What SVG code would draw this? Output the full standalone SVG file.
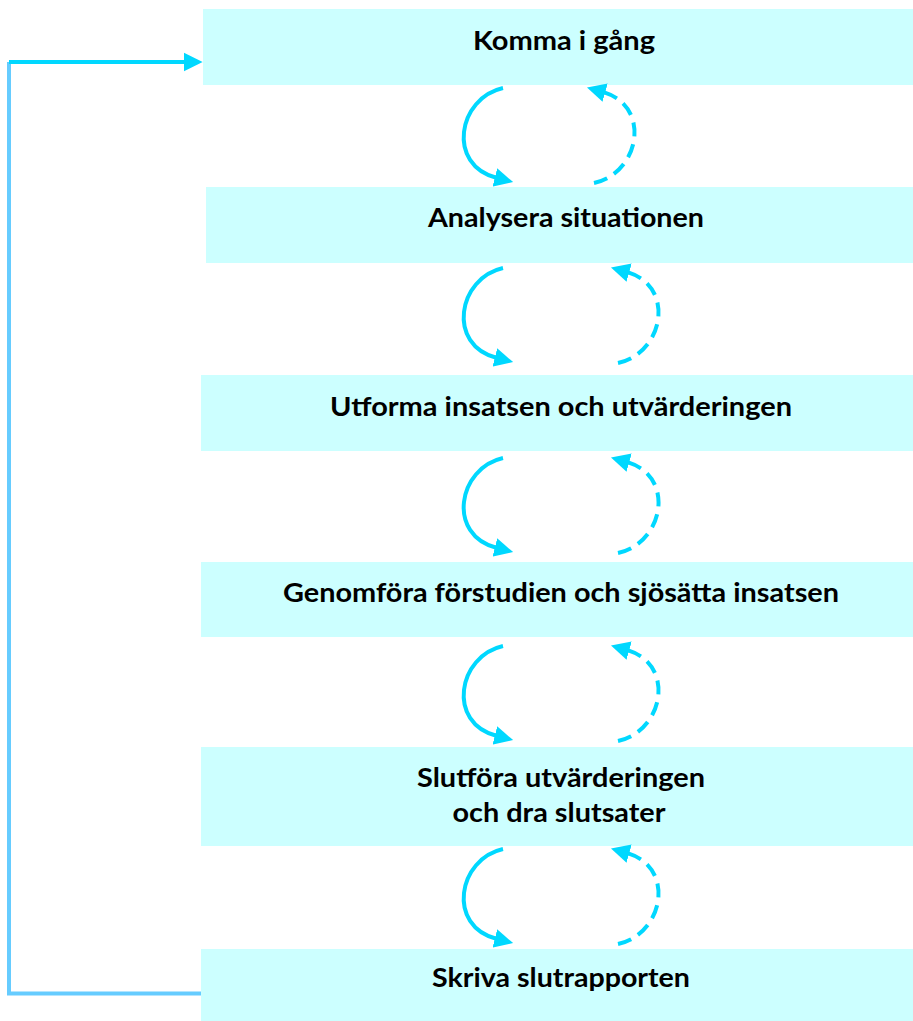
<svg xmlns="http://www.w3.org/2000/svg" width="913" height="1021" viewBox="0 0 913 1021">
  <style>
    .box { fill: #CCFFFF; stroke: none; }
    .lbl { font-family: Lato, "Liberation Sans", sans-serif; font-weight: bold; font-size: 26px; fill: #000000; text-anchor: middle; }
    .fwd { fill: none; stroke: #00D8FF; stroke-width: 4; }
    .back { fill: none; stroke: #00D8FF; stroke-width: 4; stroke-dasharray: 14 8; }
    .loop { fill: none; stroke: #66CCFF; stroke-width: 4; }
    .loopTop { fill: none; stroke: #00D8FF; stroke-width: 4; }
  </style>
  <defs>
    <marker id="ah" markerUnits="userSpaceOnUse" markerWidth="20" markerHeight="20" refX="2" refY="8.5" orient="auto" viewBox="0 0 18 17">
      <path d="M0,0 L17,8.5 L0,17 z" fill="#00D8FF"/>
    </marker>
  </defs>

  <rect width="913" height="1021" fill="#FFFFFF"/>

  <g id="node-komma">
    <rect class="box" x="203" y="9" width="710" height="76"/>
    <text class="lbl" x="564" y="50" textLength="182" lengthAdjust="spacingAndGlyphs">Komma i gång</text>
  </g>
  <g id="node-analysera">
    <rect class="box" x="206" y="187" width="707" height="76"/>
    <text class="lbl" x="566" y="227" textLength="276" lengthAdjust="spacingAndGlyphs">Analysera situationen</text>
  </g>
  <g id="node-utforma">
    <rect class="box" x="201" y="375" width="712" height="76"/>
    <text class="lbl" x="561" y="416" textLength="462" lengthAdjust="spacingAndGlyphs">Utforma insatsen och utvärderingen</text>
  </g>
  <g id="node-genomfora">
    <rect class="box" x="201" y="562" width="712" height="75"/>
    <text class="lbl" x="561" y="602" textLength="556" lengthAdjust="spacingAndGlyphs">Genomföra förstudien och sjösätta insatsen</text>
  </g>
  <g id="node-slutfora">
    <rect class="box" x="201" y="747" width="712" height="99"/>
    <text class="lbl" x="561" y="787" textLength="288" lengthAdjust="spacingAndGlyphs">Slutföra utvärderingen</text>
    <text class="lbl" x="559" y="822" textLength="213" lengthAdjust="spacingAndGlyphs">och dra slutsater</text>
  </g>
  <g id="node-skriva">
    <rect class="box" x="201" y="949" width="712" height="72"/>
    <text class="lbl" x="561" y="987" textLength="258" lengthAdjust="spacingAndGlyphs">Skriva slutrapporten</text>
  </g>

  <g id="connectors">
    <!-- pair 1 -->
    <path class="fwd" d="M503,88 C458,98 446,165 497,178" marker-end="url(#ah)"/>
    <path class="back" d="M594,183 C640,173 652,106 603,92" marker-end="url(#ah)"/>
    <!-- pair 2 -->
    <path class="fwd" d="M503,268 C458,278 446,345 497,358" marker-end="url(#ah)"/>
    <path class="back" d="M618,363 C664,353 676,286 627,272" marker-end="url(#ah)"/>
    <!-- pair 3 -->
    <path class="fwd" d="M503,458 C458,468 446,535 497,548" marker-end="url(#ah)"/>
    <path class="back" d="M618,553 C664,543 676,476 627,462" marker-end="url(#ah)"/>
    <!-- pair 4 -->
    <path class="fwd" d="M503,646 C458,656 446,723 497,736" marker-end="url(#ah)"/>
    <path class="back" d="M618,741 C664,731 676,664 627,650" marker-end="url(#ah)"/>
    <!-- pair 5 -->
    <path class="fwd" d="M503,849 C458,859 446,926 497,939" marker-end="url(#ah)"/>
    <path class="back" d="M618,944 C664,934 676,867 627,853" marker-end="url(#ah)"/>
    <!-- feedback loop -->
    <path class="loop" d="M201,993.5 L9,993.5 L9,62"/>
    <path class="loopTop" d="M9,62 L186,62" marker-end="url(#ah)"/>
  </g>
</svg>
